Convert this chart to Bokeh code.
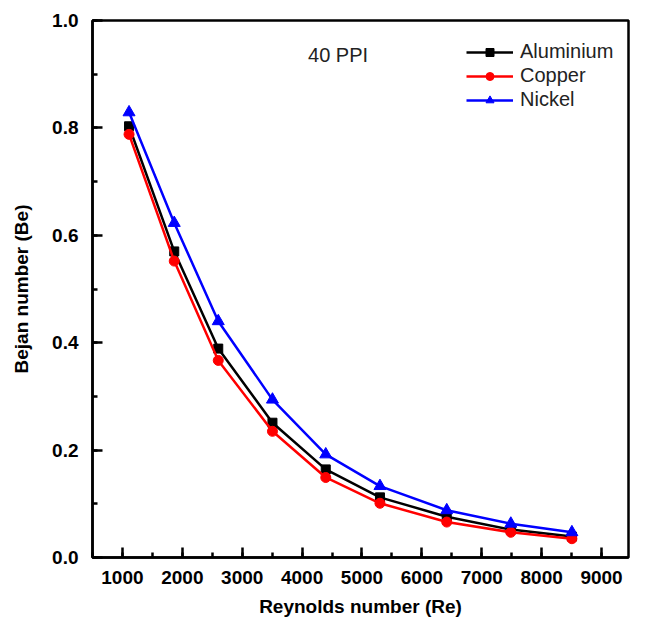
from bokeh.plotting import figure
from bokeh.models import SingleIntervalTicker, NumeralTickFormatter, Label, Range1d
from bokeh.embed import file_html
from bokeh.resources import INLINE

# Data
reynolds = [1110, 1865, 2600, 3505, 4395, 5300, 6415, 7485, 8505]
aluminium = [0.803, 0.570, 0.389, 0.251, 0.164, 0.112, 0.076, 0.052, 0.039]
copper = [0.788, 0.552, 0.367, 0.235, 0.149, 0.101, 0.066, 0.047, 0.035]
nickel = [0.829, 0.623, 0.440, 0.294, 0.192, 0.133, 0.088, 0.063, 0.047]

FONT = "Liberation Sans"

p = figure(width=630, height=622, output_backend="svg", toolbar_location=None,
           x_range=Range1d(500, 9450), y_range=Range1d(0.0, 1.0),
           min_border_left=92, min_border_right=2, min_border_top=20, min_border_bottom=65)
p.background_fill_color = "white"
p.border_fill_color = "white"
p.xgrid.visible = False
p.ygrid.visible = False
p.outline_line_color = "black"
p.outline_line_width = 2.5

# Series
p.line(reynolds, aluminium, color="black", line_width=2.5, legend_label="Aluminium")
p.scatter(reynolds, aluminium, marker="square", size=9, color="black", legend_label="Aluminium")
p.line(reynolds, copper, color="#ff0000", line_width=2.5, legend_label="Copper")
p.scatter(reynolds, copper, marker="circle", size=10, color="#ff0000", legend_label="Copper")
p.line(reynolds, nickel, color="#0000ff", line_width=2.5, legend_label="Nickel")
p.scatter(reynolds, nickel, marker="triangle", size=12, color="#0000ff", legend_label="Nickel")

# Axes
p.xaxis.ticker = SingleIntervalTicker(interval=1000, num_minor_ticks=2)
p.yaxis.ticker = SingleIntervalTicker(interval=0.2, num_minor_ticks=2)
p.xaxis.formatter = NumeralTickFormatter(format="0")
p.yaxis.formatter = NumeralTickFormatter(format="0.0")
p.xaxis.axis_label = "Reynolds number (Re)"
p.yaxis.axis_label = "Bejan number (Be)"
for ax in (p.xaxis[0], p.yaxis[0]):
    ax.axis_line_width = 2.5
    ax.axis_line_color = "black"
    ax.major_tick_line_width = 2.5
    ax.minor_tick_line_width = 2.5
    ax.major_tick_in = 10
    ax.major_tick_out = 0
    ax.minor_tick_in = 5
    ax.minor_tick_out = 0
    ax.major_label_text_font = FONT
    ax.major_label_text_font_style = "bold"
    ax.major_label_text_font_size = "19px"
    ax.major_label_text_color = "black"
    ax.axis_label_text_font = FONT
    ax.axis_label_text_font_style = "bold"
    ax.axis_label_text_font_size = "19px"
    ax.axis_label_text_color = "black"
p.xaxis.major_label_standoff = 13
p.xaxis.axis_label_standoff = 9
p.yaxis.major_label_standoff = 14
p.yaxis.axis_label_standoff = 17

# Annotation
p.add_layout(Label(x=4600, y=0.935, text="40 PPI", text_font=FONT, text_font_size="20px",
                   text_align="center", text_baseline="middle", text_color="#222222"))

# Legend
lg = p.legend[0]
lg.location = (374, 446)
lg.border_line_color = None
lg.background_fill_alpha = 0
lg.padding = 0
lg.margin = 0
lg.spacing = 1
lg.glyph_width = 47
lg.glyph_height = 20
lg.label_height = 20
lg.label_standoff = 7
lg.label_text_font = FONT
lg.label_text_font_size = "20px"
lg.label_text_color = "#222222"

open("out.html", "w").write(file_html(p, INLINE))
